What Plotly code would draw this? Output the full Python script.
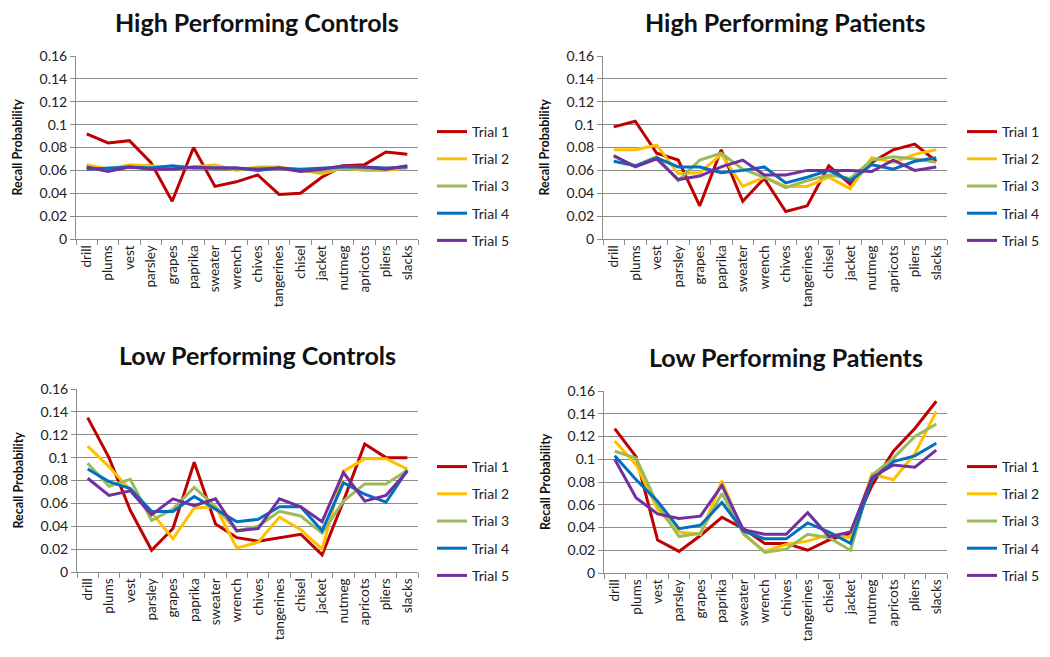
import plotly.graph_objects as go

# ----------------------------------------------------------------------------------------------------------------------
# Data
# ----------------------------------------------------------------------------------------------------------------------
words = ["drill", "plums", "vest", "parsley", "grapes", "paprika", "sweater", "wrench",
         "chives", "tangerines", "chisel", "jacket", "nutmeg", "apricots", "pliers", "slacks"]
trials = ["Trial 1", "Trial 2", "Trial 3", "Trial 4", "Trial 5"]
y_ticks = [0, 0.02, 0.04, 0.06, 0.08, 0.1, 0.12, 0.14, 0.16]

high_controls = [
    [0.092, 0.084, 0.086, 0.067, 0.033, 0.080, 0.046, 0.050, 0.056, 0.039, 0.040, 0.054, 0.064, 0.065, 0.076, 0.074],
    [0.065, 0.061, 0.065, 0.064, 0.062, 0.063, 0.065, 0.060, 0.063, 0.063, 0.060, 0.057, 0.062, 0.060, 0.060, 0.062],
    [0.063, 0.060, 0.063, 0.062, 0.062, 0.062, 0.062, 0.061, 0.062, 0.062, 0.060, 0.059, 0.062, 0.061, 0.061, 0.063],
    [0.061, 0.062, 0.063, 0.062, 0.064, 0.062, 0.062, 0.062, 0.060, 0.062, 0.061, 0.062, 0.063, 0.063, 0.062, 0.063],
    [0.063, 0.059, 0.063, 0.061, 0.061, 0.063, 0.062, 0.062, 0.061, 0.062, 0.059, 0.061, 0.064, 0.063, 0.061, 0.064],
]
high_patients = [
    [0.098, 0.103, 0.075, 0.069, 0.029, 0.078, 0.033, 0.053, 0.024, 0.029, 0.064, 0.048, 0.067, 0.078, 0.083, 0.068],
    [0.078, 0.078, 0.082, 0.057, 0.058, 0.074, 0.046, 0.054, 0.046, 0.046, 0.054, 0.044, 0.071, 0.067, 0.074, 0.078],
    [0.072, 0.064, 0.072, 0.051, 0.069, 0.075, 0.061, 0.054, 0.045, 0.051, 0.056, 0.053, 0.069, 0.072, 0.070, 0.067],
    [0.068, 0.064, 0.071, 0.063, 0.063, 0.058, 0.060, 0.063, 0.049, 0.054, 0.060, 0.051, 0.065, 0.061, 0.068, 0.071],
    [0.073, 0.063, 0.070, 0.052, 0.055, 0.063, 0.069, 0.056, 0.056, 0.060, 0.060, 0.060, 0.059, 0.069, 0.060, 0.063],
]
low_controls = [
    [0.135, 0.100, 0.054, 0.019, 0.038, 0.096, 0.042, 0.030, 0.027, 0.030, 0.033, 0.015, 0.062, 0.112, 0.100, 0.100],
    [0.110, 0.092, 0.072, 0.052, 0.029, 0.056, 0.057, 0.021, 0.026, 0.048, 0.037, 0.020, 0.088, 0.099, 0.099, 0.090],
    [0.095, 0.075, 0.081, 0.045, 0.055, 0.074, 0.057, 0.036, 0.040, 0.053, 0.049, 0.034, 0.062, 0.077, 0.077, 0.089],
    [0.090, 0.079, 0.073, 0.053, 0.053, 0.066, 0.055, 0.044, 0.046, 0.057, 0.057, 0.036, 0.078, 0.068, 0.061, 0.089],
    [0.082, 0.067, 0.071, 0.050, 0.064, 0.058, 0.064, 0.036, 0.038, 0.064, 0.057, 0.044, 0.087, 0.062, 0.067, 0.088],
]
low_patients = [
    [0.127, 0.102, 0.029, 0.019, 0.033, 0.049, 0.039, 0.026, 0.026, 0.020, 0.029, 0.035, 0.077, 0.107, 0.127, 0.151],
    [0.116, 0.095, 0.056, 0.036, 0.034, 0.081, 0.034, 0.019, 0.025, 0.028, 0.034, 0.031, 0.087, 0.082, 0.105, 0.142],
    [0.107, 0.101, 0.060, 0.032, 0.035, 0.070, 0.035, 0.018, 0.021, 0.034, 0.031, 0.020, 0.086, 0.101, 0.120, 0.131],
    [0.103, 0.082, 0.063, 0.039, 0.042, 0.062, 0.037, 0.030, 0.030, 0.044, 0.036, 0.026, 0.082, 0.098, 0.103, 0.114],
    [0.100, 0.066, 0.052, 0.048, 0.050, 0.077, 0.038, 0.034, 0.034, 0.053, 0.032, 0.036, 0.084, 0.095, 0.093, 0.108],
]

# ----------------------------------------------------------------------------------------------------------------------
# Layout config (page pixel positions; the figure div sits 8px in from the page corner)
# ----------------------------------------------------------------------------------------------------------------------
OFF = 8
W, H = 1050 - 2 * OFF, 657 - 2 * OFF
line_colors = ["#C00000", "#FFC000", "#9BBB59", "#0070C0", "#7030A0"]
grid_color = "#8C8C8C"
font_family = "Lato, 'Open Sans', sans-serif"


def fx(px):
    return (px - OFF) / W


def fy(py):
    return 1 - (py - OFF) / H


# title, data, x0, x1, ytop, ybottom, legend x, legend y (page px)
panels = [
    ("High Performing Controls", high_controls, 76, 418, 56, 239, 432, 116),
    ("High Performing Patients", high_patients, 603, 947, 56, 239, 962, 116),
    ("Low Performing Controls", low_controls, 77, 418, 389, 572, 432, 451),
    ("Low Performing Patients", low_patients, 604, 947, 391, 573, 962, 451),
]

fig = go.Figure()
annotations = []

for i, (title, data, x0, x1, yt, yb, lx, ly) in enumerate(panels):
    n = "" if i == 0 else str(i + 1)
    leg = "legend" + n
    for j, trial in enumerate(trials):
        fig.add_trace(go.Scatter(x=words, y=data[j], name=trial, mode="lines",
                                 line=dict(color=line_colors[j], width=3),
                                 xaxis="x" + n, yaxis="y" + n, legend=leg,
                                 legendgroup=f"p{i}t{j}"))

    fig.update_layout({
        "xaxis" + n: dict(domain=[fx(x0), fx(x1)], anchor="y" + n, type="category",
                          range=[-0.5, len(words) - 0.5],
                          showline=True, linecolor=grid_color, linewidth=1,
                          ticks="outside", tickson="boundaries", ticklen=5, tickcolor=grid_color,
                          tickangle=-90, showgrid=False, automargin=False,
                          tickfont=dict(size=13.5, color="#222", family=font_family)),
        "yaxis" + n: dict(domain=[fy(yb), fy(yt)], anchor="x" + n, range=[0, 0.16],
                          tickvals=y_ticks, showline=True, linecolor=grid_color, linewidth=1,
                          ticks="outside", ticklen=5, tickcolor=grid_color, automargin=False,
                          showgrid=True, gridcolor=grid_color, gridwidth=1, zeroline=False,
                          tickfont=dict(size=14, color="#222", family=font_family)),
        leg: dict(x=fx(lx), y=fy(ly), xanchor="left", yanchor="top",
                  font=dict(size=14, color="#222", family=font_family),
                  tracegroupgap=6, bgcolor="rgba(0,0,0,0)"),
    })

    # Title and y-axis label
    annotations.append(dict(text="<b>" + title + "</b>", x=fx((x0 + x1) / 2 + 10), y=fy(yt - 34),
                            xref="paper", yref="paper", xanchor="center", yanchor="middle",
                            showarrow=False, font=dict(size=25, color="#111", family=font_family)))
    annotations.append(dict(text="<b>Recall Probability</b>", x=fx(x0 - 59), y=fy((yt + yb) / 2),
                            xref="paper", yref="paper", xanchor="center", yanchor="middle",
                            showarrow=False, textangle=-90,
                            font=dict(size=12.5, color="#111", family=font_family)))

fig.update_layout(width=W, height=H, margin=dict(l=0, r=0, t=0, b=0, autoexpand=False),
                  plot_bgcolor="white", paper_bgcolor="white",
                  annotations=annotations, showlegend=True)

fig.write_html("out.html")
